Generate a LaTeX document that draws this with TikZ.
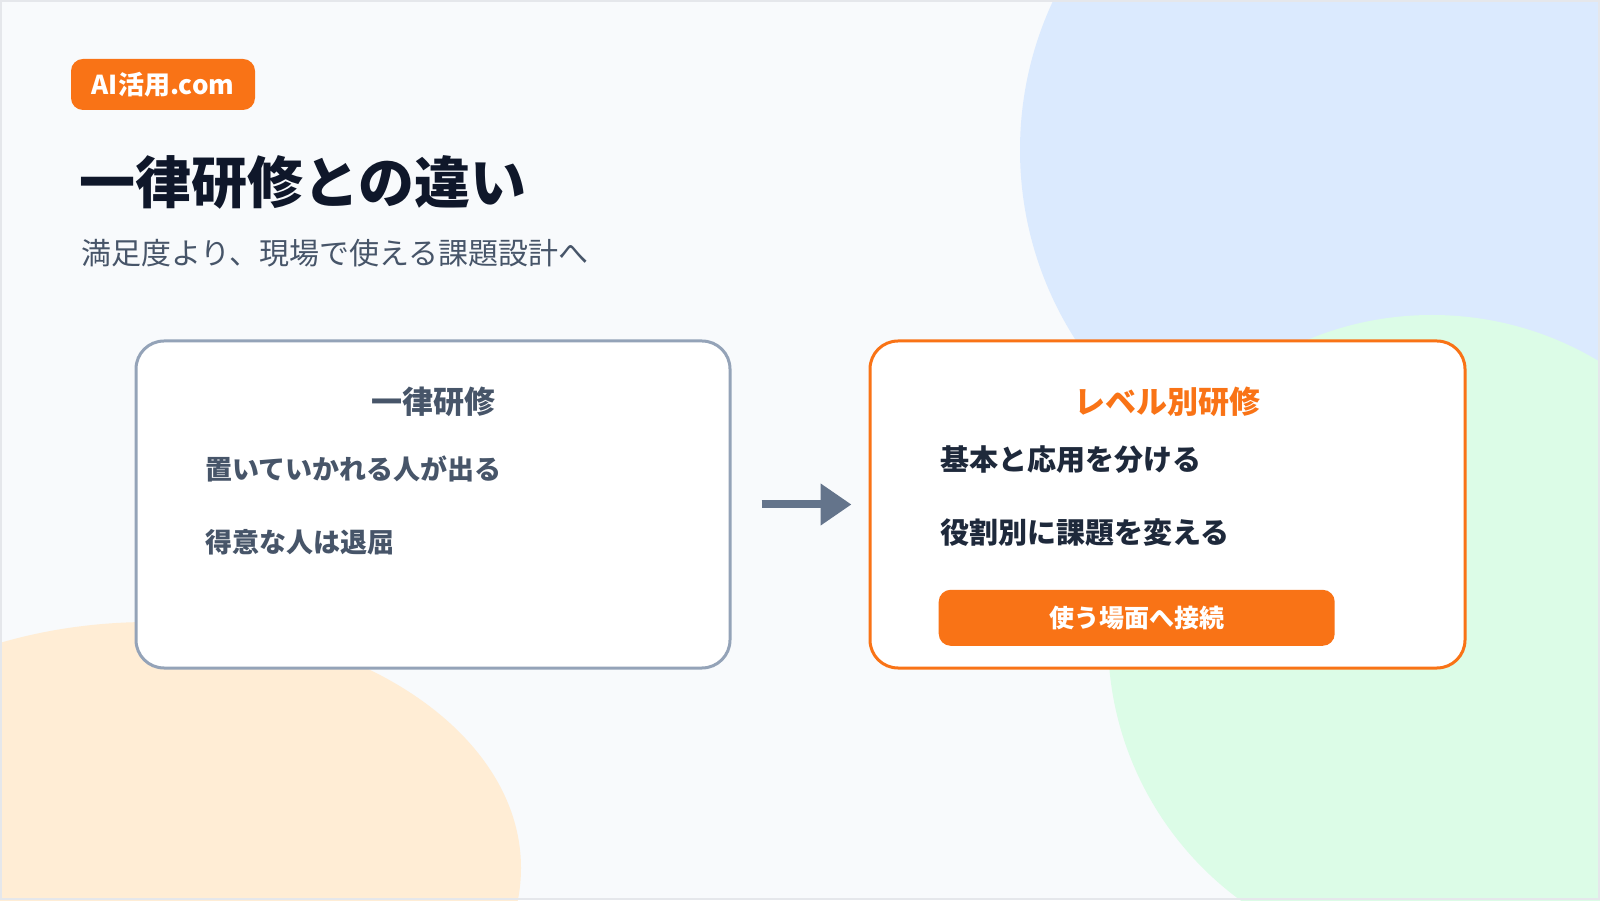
\documentclass[tikz,border=0pt]{standalone}
\usepackage{fontspec}
\setmainfont{Noto Sans CJK JP}
\usetikzlibrary{arrows.meta,positioning}
\definecolor{pagebg}{HTML}{F8FAFC}
\definecolor{pageedge}{HTML}{E5E7EB}
\definecolor{blobblue}{HTML}{DBEAFE}
\definecolor{blobgreen}{HTML}{DCFCE7}
\definecolor{blobpeach}{HTML}{FFEDD5}
\definecolor{accent}{HTML}{F97316}
\definecolor{cardgray}{HTML}{94A3B8}
\definecolor{slate}{HTML}{475569}
\definecolor{ink}{HTML}{1E293B}
\definecolor{headink}{HTML}{0F172A}
\definecolor{arrowgray}{HTML}{64748B}
\newcommand{\setpx}[1]{\fontsize{#1pt}{#1pt}\selectfont}
\tikzset{
  badge/.style={fill=accent,rounded corners=12pt,minimum width=184pt,minimum height=51pt,inner sep=0pt,text=white,font=\setpx{26}\bfseries},
  headline/.style={anchor=west,inner sep=0pt,text=headink,font=\setpx{56}\bfseries,text height=49.3pt,text depth=6.7pt},
  subline/.style={anchor=west,inner sep=0pt,text=slate,font=\setpx{30},text height=26.4pt,text depth=3.6pt},
  cardbox/.style={draw,fill=white,rounded corners=28pt,line width=3pt,minimum width=594pt,minimum height=327pt,inner sep=0pt},
  cardtitle/.style={inner sep=0pt,font=\setpx{31}\bfseries,text height=27.3pt,text depth=3.7pt},
  leftitem/.style={anchor=west,inner sep=0pt,text=slate,font=\setpx{27}\bfseries,text height=23.8pt,text depth=3.2pt},
  rightitem/.style={anchor=west,inner sep=0pt,text=ink,font=\setpx{29}\bfseries,text height=25.5pt,text depth=3.5pt},
  pill/.style={fill=accent,rounded corners=12pt,minimum width=396pt,minimum height=56pt,inner sep=0pt,text=white,font=\setpx{25}\bfseries},
  flowarrow/.style={arrowgray,line width=8pt,-{Triangle[length=31pt,width=40pt]},shorten <=30pt,shorten >=17pt}
}
\begin{document}
\begin{tikzpicture}[x=1pt,y=1pt]
\useasboundingbox (0,0) rectangle (1600,900);
% background and soft shapes
\fill[pagebg] (0,0) rectangle (1600,900);
\begin{scope}
  \clip (0,0) rectangle (1600,900);
  \fill[blobblue] (1372,750) circle[radius=352pt];
  \fill[blobgreen] (1432,261) circle[radius=324pt];
  \fill[blobpeach] (150,32) ellipse[x radius=371pt,y radius=246pt];
\end{scope}
\draw[pageedge,line width=2pt] (1,1) rectangle (1599,899);

% header
\node[badge] (badge) at (163,815.5) {AI活用.com};
\node[headline] (title) at (79,718) {一律研修との違い};
\node[subline] (subtitle) at (81,647) {満足度より、現場で使える課題設計へ};

% cards
\node[cardbox,draw=cardgray] (lbox) at (433,395.5) {};
\node[cardbox,draw=accent,minimum width=595pt] (rbox) at (1167.5,395.5) {};

\node[cardtitle,text=slate] (ltitle) at ([yshift=-62pt]lbox.north) {一律研修};
\node[leftitem] (lone) at ([xshift=71pt,yshift=-130pt]lbox.north west) {置いていかれる人が出る};
\node[leftitem,below=45pt of lone.south west,anchor=north west] (ltwo) {得意な人は退屈};

\node[cardtitle,text=accent] (rtitle) at ([yshift=-62pt]rbox.north) {レベル別研修};
\node[rightitem] (rone) at ([xshift=72pt,yshift=-120pt]rbox.north west) {基本と応用を分ける};
\node[rightitem,below=44pt of rone.south west,anchor=north west] (rtwo) {役割別に課題を変える};
\node[pill,below=42pt of rtwo.south west,anchor=north west,xshift=-2pt] (connect) {使う場面へ接続};

\draw[flowarrow] (lbox.east) -- (rbox.west);
\end{tikzpicture}
\end{document}
